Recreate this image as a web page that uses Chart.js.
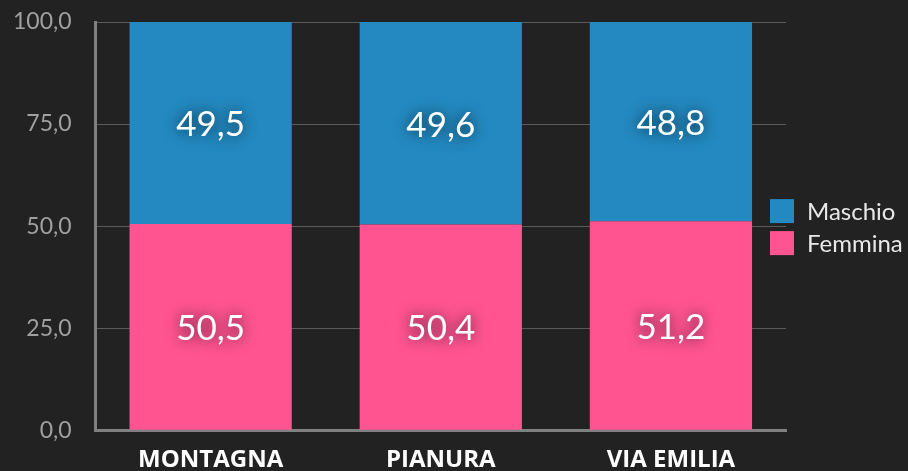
<!DOCTYPE html>
<html>
<head>
<meta charset="utf-8">
<script src="https://cdn.jsdelivr.net/npm/chart.js@4"></script>
<style>
  body { margin: 0; background: #222222; }
  #wrap { width: 908px; height: 471px; }
</style>
</head>
<body>
<div id="wrap"><canvas id="myChart" width="908" height="471"></canvas></div>
<script>
const categories = ['MONTAGNA', 'PIANURA', 'VIA EMILIA'];
const femmina = [50.5, 50.4, 51.2];
const maschio = [49.5, 49.6, 48.8];
const yTicks = [0, 25, 50, 75, 100];

const fmt = v => v.toFixed(1).replace('.', ',');

// etichette dei valori al centro di ogni blocco
const valueLabels = {
  id: 'valueLabels',
  afterDatasetsDraw(chart) {
    const ctx = chart.ctx;
    ctx.save();
    ctx.font = '35px Lato, "Noto Sans", sans-serif';
    ctx.fillStyle = '#ffffff';
    ctx.textAlign = 'center';
    ctx.textBaseline = 'middle';
    ctx.shadowColor = 'rgba(0,0,0,0.75)';
    ctx.shadowBlur = 14;
    chart.data.datasets.forEach((ds, i) => {
      chart.getDatasetMeta(i).data.forEach((bar, j) => {
        const y = (bar.y + bar.base) / 2;
        ctx.fillText(fmt(ds.data[j]), bar.x, y + 2);
      });
    });
    ctx.restore();
  }
};

// legenda disegnata a mano sul lato destro
const sideLegend = {
  id: 'sideLegend',
  afterDraw(chart) {
    const ctx = chart.ctx;
    const area = chart.chartArea;
    const items = chart.data.datasets.slice().reverse();
    const box = 24, gap = 8;
    const total = items.length * box + (items.length - 1) * gap;
    let y = (area.top + area.bottom) / 2 - total / 2 + 1;
    const x = area.right - 16;
    ctx.save();
    ctx.font = '24px Lato, "Noto Sans", sans-serif';
    ctx.textBaseline = 'middle';
    ctx.textAlign = 'left';
    items.forEach(ds => {
      ctx.fillStyle = ds.backgroundColor;
      ctx.fillRect(x, y, box, box);
      ctx.fillStyle = '#e8e8e8';
      ctx.fillText(ds.label, x + box + 13, y + box / 2 + 1);
      y += box + gap;
    });
    ctx.restore();
  }
};

const ctx = document.getElementById('myChart');

var chart = new Chart(ctx, {
  type: 'bar',
  data: {
    labels: categories,
    datasets: [
      { label: 'Femmina', data: femmina, backgroundColor: '#FF5490', borderWidth: 0 },
      { label: 'Maschio', data: maschio, backgroundColor: '#2389C0', borderWidth: 0 }
    ]
  },
  options: {
    responsive: false,
    animation: false,
    categoryPercentage: 1,
    barPercentage: 0.705,
    layout: { padding: { top: 0, right: 122, left: -11, bottom: -12 } },
    plugins: { legend: { display: false }, tooltip: { enabled: false } },
    scales: {
      x: {
        stacked: true,
        grid: { display: false },
        border: { color: '#808080', width: 3 },
        ticks: {
          color: '#ffffff',
          padding: 8,
          font: { family: '"Open Sans", sans-serif', size: 24, weight: 'bold' }
        }
      },
      y: {
        stacked: true,
        min: 0,
        max: 100,
        afterBuildTicks: axis => { axis.ticks = yTicks.map(v => ({ value: v })); },
        afterFit: axis => { axis.paddingTop = 22; },
        grid: { color: '#5a5a5a', lineWidth: 1, drawTicks: false },
        border: { color: '#808080', width: 3 },
        ticks: {
          color: '#a0a0a0',
          padding: 24,
          font: { family: 'Lato, "Noto Sans", sans-serif', size: 23 },
          callback: v => fmt(v)
        }
      }
    }
  },
  plugins: [valueLabels, sideLegend]
});
</script>
</body>
</html>
